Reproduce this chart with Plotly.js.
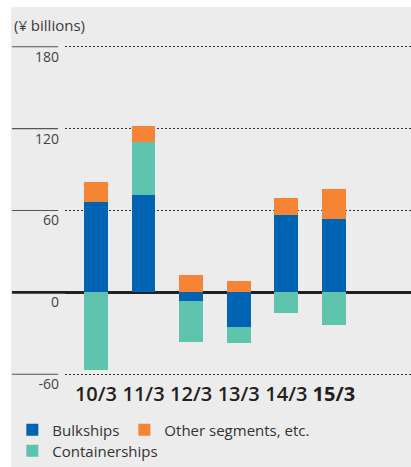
<!DOCTYPE html>
<html>
<head>
<meta charset="utf-8">
<script src="https://cdn.plot.ly/plotly-3.0.1.min.js"></script>
<style>html,body{margin:0;padding:0;background:#fff;}#chart{width:411px;height:467px;}</style>
</head>
<body>
<div id="chart"></div>
<script>
// Data
var categories = ['10/3', '11/3', '12/3', '13/3', '14/3', '15/3'];
var bulkships = [66, 71, -6, -25, 57, 54];
var containerships = [-57, 39, -30, -12, -15, -24];
var otherSegments = [15, 12, 13, 8, 12, 22];
var yTickValues = [-60, 0, 60, 120, 180];
var yTickLabels = ['-60', '0', '60', '120', '180'];
var highlightCategory = '15/3';

var FONT = 'Open Sans, Noto Sans, sans-serif';
var xTickText = categories.map(function (c) { return c === highlightCategory ? '<b>' + c + '</b>' : c; });

var traces = [
  { type: 'bar', name: 'Bulkships', x: categories, y: bulkships, marker: { color: '#0064B2' }, width: 0.5, legend: 'legend', legendrank: 1, hoverinfo: 'skip' },
  { type: 'bar', name: 'Containerships', x: categories, y: containerships, marker: { color: '#5FC4AE' }, width: 0.5, legend: 'legend2', legendrank: 3, hoverinfo: 'skip' },
  { type: 'bar', name: 'Other segments, etc.', x: categories, y: otherSegments, marker: { color: '#F58434' }, width: 0.5, legend: 'legend', legendrank: 2, hoverinfo: 'skip' }
];

var shapes = [
  // grey panel background
  { type: 'rect', xref: 'paper', yref: 'paper', x0: -0.156, x1: 1.01, y0: -0.3, y1: 1.111, fillcolor: '#EBECEB', line: { width: 0 }, layer: 'below' }
];
yTickValues.forEach(function (v) {
  shapes.push({ type: 'line', xref: 'paper', yref: 'y', x0: -0.153, x1: -0.02, y0: v, y1: v, line: { color: '#555555', width: 1.2 }, layer: 'above' });
});
shapes.push({ type: 'line', xref: 'paper', yref: 'y', x0: -0.153, x1: 0, y0: 0, y1: 0, line: { color: '#231F20', width: 2.6 }, layer: 'above' });

var layout = {
  width: 411, height: 467,
  margin: { l: 65, r: 0, t: 44, b: 90 },
  paper_bgcolor: '#FFFFFF',
  plot_bgcolor: 'rgba(0,0,0,0)',
  barmode: 'relative',
  bargap: 0,
  showlegend: true,
  title: { text: '(¥ billions)', font: { family: FONT, size: 15, color: '#3A3A3A' }, xref: 'container', yref: 'container', x: 0.034, xanchor: 'left', y: 0.944, yanchor: 'middle' },
  xaxis: {
    type: 'category', range: [-0.65, 6.62], tickvals: categories, ticktext: xTickText,
    showgrid: false, zeroline: false, showline: false, ticks: '', ticklabelstandoff: 3,
    tickfont: { family: FONT, size: 20, color: '#231F20', weight: 600 }, fixedrange: true
  },
  yaxis: {
    range: [-62, 182], tickvals: yTickValues, ticktext: yTickLabels,
    showgrid: true, gridcolor: '#333333', gridwidth: 1, griddash: '2px,2px',
    zeroline: true, zerolinecolor: '#231F20', zerolinewidth: 2.6,
    showline: false, ticks: '', ticklabelshift: 10, ticklabelstandoff: 5,
    tickfont: { family: FONT, size: 14, color: '#444444' }, fixedrange: true
  },
  legend: { orientation: 'h', xref: 'container', yref: 'container', x: 0.03, xanchor: 'left', y: 0.079, yanchor: 'middle', font: { family: FONT, size: 15, color: '#333333' }, bgcolor: 'rgba(0,0,0,0)', traceorder: 'normal' },
  legend2: { orientation: 'h', xref: 'container', yref: 'container', x: 0.03, xanchor: 'left', y: 0.034, yanchor: 'middle', font: { family: FONT, size: 15, color: '#333333' }, bgcolor: 'rgba(0,0,0,0)' },
  shapes: shapes
};

Plotly.newPlot('chart', traces, layout, { displayModeBar: false, staticPlot: true });
</script>
</body>
</html>
